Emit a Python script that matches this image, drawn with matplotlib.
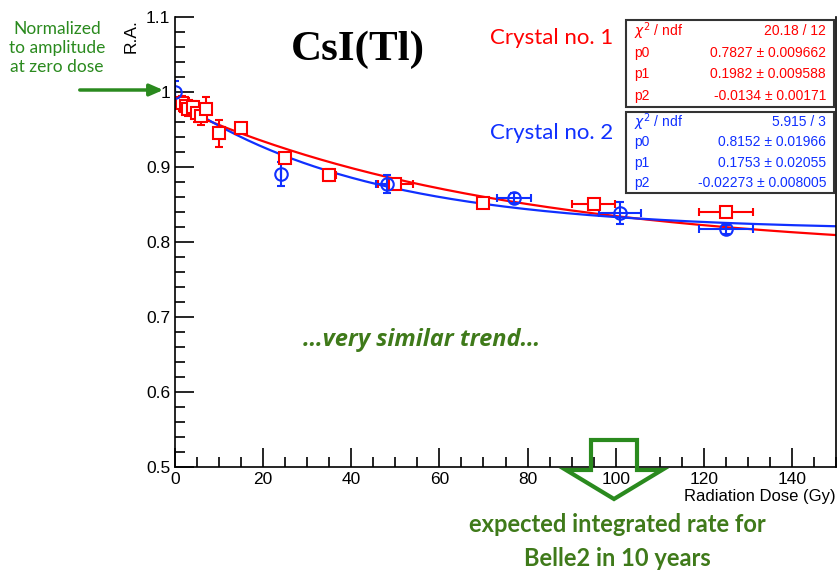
import matplotlib
matplotlib.use("Agg")
import matplotlib.pyplot as plt
import numpy as np
from matplotlib.patches import Rectangle, Polygon
from matplotlib.ticker import MultipleLocator

W, H = 838, 575

# crystal no. 1 (red squares)
dose1 = [1.5, 2.5, 3, 4, 5, 6, 7, 10, 15, 25, 35, 50, 70, 95, 125]
ra1 = [0.985, 0.982, 0.978, 0.980, 0.972, 0.968, 0.978, 0.945, 0.952,
       0.912, 0.890, 0.877, 0.852, 0.851, 0.840]
ra1_err = [0.01, 0.01, 0.01, 0.008, 0.012, 0.012, 0.016, 0.018, 0.005,
           0.005, 0.008, 0.006, 0.006, 0.005, 0.004]
dose1_err = [0, 0, 0, 0, 0, 0, 0, 0, 0, 0.5, 1.5, 4, 0.5, 4.8, 6.2]

# crystal no. 2 (blue circles)
dose2 = [0, 24, 48, 77, 101, 125]
ra2 = [1.0, 0.891, 0.877, 0.859, 0.839, 0.817]
ra2_err = [0.015, 0.016, 0.012, 0.007, 0.015, 0.006]
dose2_err = [0, 0, 2.5, 3.9, 4.8, 6.2]

# fit results p0 + p1*exp(p2*x)
fit1 = [0.7827, 0.1982, -0.0134]
fit2 = [0.8152, 0.1753, -0.02273]
box1 = [("$\\chi^2$ / ndf", "20.18 / 12"), ("p0", "0.7827 ± 0.009662"),
        ("p1", "0.1982 ± 0.009588"), ("p2", "-0.0134 ± 0.00171")]
box2 = [("$\\chi^2$ / ndf", "5.915 / 3"), ("p0", "0.8152 ± 0.01966"),
        ("p1", "0.1753 ± 0.02055"), ("p2", "-0.02273 ± 0.008005")]

red = "#ff0000"
blue = "#1030ff"
green = "#2a8a1e"
dgreen = "#3f7a1a"

plt.rcParams["font.family"] = ["Liberation Sans", "DejaVu Sans"]


def fx(x):
    return x / W


def fy(y):
    return 1 - y / H


fig = plt.figure(figsize=(W / 100, H / 100), dpi=100)
ax = fig.add_axes([fx(175), fy(467), fx(836) - fx(175), fy(17) - fy(467)])

xx = np.linspace(0, 150, 300)
ax.plot(xx, fit1[0] + fit1[1] * np.exp(fit1[2] * xx), color=red, lw=1.6)
ax.plot(xx, fit2[0] + fit2[1] * np.exp(fit2[2] * xx), color=blue, lw=1.6)

ax.errorbar(dose1, ra1, yerr=ra1_err, xerr=dose1_err, fmt="s", ms=9,
            mfc="white", mec=red, mew=1.5, color=red, elinewidth=1.5,
            capsize=3, capthick=1.5)
ax.errorbar(dose2, ra2, yerr=ra2_err, xerr=dose2_err, fmt="o", ms=9,
            mfc="none", mec=blue, mew=1.5, color=blue, elinewidth=1.5,
            capsize=3, capthick=1.5)

ax.set_xlim(0, 150)
ax.set_ylim(0.5, 1.1)
ax.xaxis.set_major_locator(MultipleLocator(20))
ax.xaxis.set_minor_locator(MultipleLocator(5))
ax.yaxis.set_major_locator(MultipleLocator(0.1))
ax.yaxis.set_minor_locator(MultipleLocator(0.02))
ax.set_yticks(np.arange(0.5, 1.11, 0.1))
ax.set_yticklabels(["0.5", "0.6", "0.7", "0.8", "0.9", "1", "1.1"])
ax.tick_params(which="both", direction="in", labelsize=12.5, width=1.2)
ax.tick_params(which="major", length=14)
ax.tick_params(which="minor", length=7)
ax.spines["top"].set_visible(False)
for s in ["left", "bottom", "right"]:
    ax.spines[s].set_linewidth(1.2)

fig.text(fx(836), fy(497), "Radiation Dose (Gy)", ha="right", va="center",
         fontsize=12)
fig.text(fx(131), fy(19), "R.A.", rotation=90, ha="center", va="top",
         fontsize=12.5)

# fit stat boxes
for top, bottom, rows, col in [(20, 107, box1, red), (112, 193, box2, blue)]:
    fig.patches.append(Rectangle((fx(626), fy(bottom)), fx(834) - fx(626),
                                 fy(top) - fy(bottom), transform=fig.transFigure,
                                 fill=False, ec="#333333", lw=1.5))
    step = (bottom - top) / 4
    for i, (k, v) in enumerate(rows):
        yy = top + step * (i + 0.5)
        fig.text(fx(634), fy(yy), k, color=col, fontsize=10, ha="left", va="center")
        fig.text(fx(826), fy(yy), v, color=col, fontsize=10, ha="right", va="center")

fig.text(fx(490), fy(38), "Crystal no. 1", color=red, fontsize=16,
         family=["Lato", "DejaVu Sans"], ha="left", va="center")
fig.text(fx(490), fy(133), "Crystal no. 2", color=blue, fontsize=16,
         family=["Lato", "DejaVu Sans"], ha="left", va="center")
fig.text(fx(358), fy(50), "CsI(Tl)", fontsize=31, fontweight="bold",
         family=["Liberation Serif", "DejaVu Serif"], ha="center", va="center")

fig.text(fx(57), fy(48), "Normalized\nto amplitude\nat zero dose", color=green,
         fontsize=12.5, family=["Lato", "DejaVu Sans"], ha="center", va="center",
         linespacing=1.2)
ax.annotate("", xy=(fx(166), fy(90)), xycoords="figure fraction",
            xytext=(fx(77), fy(90)), textcoords="figure fraction",
            arrowprops=dict(arrowstyle="-|>,head_length=0.8,head_width=0.35",
                            color=green, lw=2.5))

fig.text(fx(422), fy(340), "…very similar trend…", color=dgreen, fontsize=17,
         fontweight="bold", fontstyle="italic", family=["Open Sans", "DejaVu Sans"],
         ha="center", va="center")

arrow = [(fx(591), fy(440)), (fx(637), fy(440)), (fx(637), fy(470)),
         (fx(662), fy(470)), (fx(614), fy(499)), (fx(566), fy(470)),
         (fx(591), fy(470))]
fig.patches.append(Polygon(arrow, closed=True, fill=False, ec=green, lw=3,
                           transform=fig.transFigure))

fig.text(fx(617), fy(525), "expected integrated rate for", color=dgreen,
         fontsize=17, fontweight="bold", family=["Lato", "DejaVu Sans"],
         ha="center", va="center")
fig.text(fx(617), fy(559), "Belle2 in 10 years", color=dgreen,
         fontsize=17, fontweight="bold", family=["Lato", "DejaVu Sans"],
         ha="center", va="center")

fig.savefig("out.png", dpi=100)
